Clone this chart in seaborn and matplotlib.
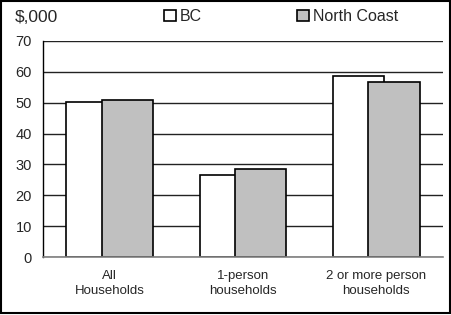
import pandas as pd
import matplotlib
matplotlib.use("Agg")
import matplotlib.pyplot as plt
import seaborn as sns
from matplotlib.patches import Rectangle

# data ($,000)
categories = ["All\nHouseholds", "1-person\nhouseholds", "2 or more person\nhouseholds"]
bc_values = [50.3, 26.6, 58.5]
north_coast_values = [50.9, 28.6, 56.8]
series_names = ["BC", "North Coast"]

df = pd.DataFrame({
    "category": categories * 2,
    "value": bc_values + north_coast_values,
    "series": [series_names[0]] * 3 + [series_names[1]] * 3,
})

sns.set_style("white")
plt.rcParams["font.family"] = ["Liberation Sans", "DejaVu Sans"]

fig = plt.figure(figsize=(4.52, 3.15), dpi=100)
ax = fig.add_axes([0.095, 0.184, 0.885, 0.686])

sns.barplot(data=df, x="category", y="value", hue="series", order=categories,
            hue_order=series_names, palette=["white", "#c0c0c0"],
            edgecolor="black", linewidth=1.2, legend=False, ax=ax)

# excel-style overlapping bars
bar_w = 0.385
offsets = [-0.133, 0.133]
for cont, off in zip(ax.containers, offsets):
    for j, bar in enumerate(cont):
        bar.set_width(bar_w)
        bar.set_x(j + off - bar_w / 2)

ax.set_xlim(-0.5, 2.5)
ax.set_ylim(0, 70)
ax.set_yticks(range(0, 71, 10))
ax.yaxis.grid(True, color="#222222", linewidth=1)
ax.set_axisbelow(True)
ax.set_xlabel("")
ax.set_ylabel("")
ax.tick_params(axis="both", length=0)
ax.tick_params(axis="y", labelsize=10.5, pad=8)
ax.tick_params(axis="x", labelsize=9.5, pad=9)
for lbl in ax.get_xticklabels():
    lbl.set_linespacing(1.35)
for sp in ["top", "right"]:
    ax.spines[sp].set_visible(False)
ax.spines["left"].set_color("black")
ax.spines["bottom"].set_color("#808080")
ax.spines["left"].set_linewidth(1)
ax.spines["bottom"].set_linewidth(1.2)

fig.text(0.033, 0.943, "$,000", fontsize=12.5, va="center", ha="left")
fig.legend(ax.containers, series_names, loc="center", ncol=2, frameon=False,
           bbox_to_anchor=(0.622, 0.947), fontsize=11.5, handlelength=0.75,
           handleheight=0.75, handletextpad=0.2, columnspacing=6.0,
           borderaxespad=0)

fig.patches.append(Rectangle((0.003, 0.005), 0.992, 0.992, transform=fig.transFigure,
                             fill=False, edgecolor="black", linewidth=1.5))

fig.savefig("out.png", dpi=100)
